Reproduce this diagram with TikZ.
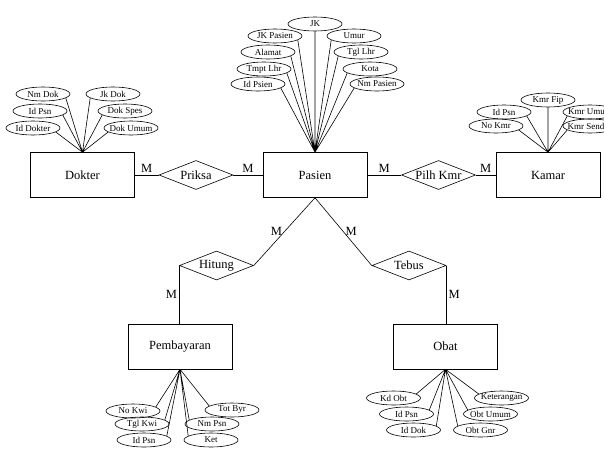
\documentclass[tikz,border=0pt]{standalone}
\usepackage{fontspec}
\setmainfont{Liberation Serif}
\usetikzlibrary{positioning,shapes.geometric}

\begin{document}
\begin{tikzpicture}[x=1pt,y=-1pt,line width=0.6pt,on grid,
         entity/.style = {draw,rectangle,minimum width=104pt,minimum height=45pt,
         inner sep=0pt,font=\fontsize{12.5}{14}\selectfont},
         relation/.style = {draw,diamond,aspect=2.5,minimum width=74pt,
         minimum height=29pt,inner sep=0pt,font=\fontsize{12.5}{14}\selectfont},
         attrib/.style = {draw,ellipse,minimum width=54pt,minimum height=14pt,
         inner xsep=-6pt,inner ysep=0pt,font=\fontsize{9}{10}\selectfont},
         card/.style = {inner sep=2pt,font=\fontsize{12.5}{14}\selectfont}
]
      \useasboundingbox (0,0) rectangle (604,450);

      \node[entity] (pasien) at (315,175) {Pasien};
      \node[relation, left=119pt of pasien] (priksa) {Priksa};
      \node[entity, left=113.5pt of priksa] (dokter) {Dokter};
      \node[relation, right=123.5pt of pasien] (pilih) {Pilh Kmr};
      \node[entity, right=109.5pt of pilih] (kamar) {Kamar};
      \node[relation, below left=90.5pt and 98.5pt of pasien] (hitung) {Hitung};
      \node[relation, below right=90.5pt and 94pt of pasien] (tebus) {Tebus};
      \node[entity, below left=81pt and 36.5pt of hitung] (bayar) {Pembayaran};
      \node[entity, below right=81pt and 36.5pt of tebus] (obat) {Obat};

      % atribut pasien
      \node[attrib, above=151pt of pasien] (jk) {JK};
      \node[attrib, above left=139pt and 40pt of pasien] (jkpasien) {JK Pasien};
      \node[attrib, above right=139pt and 39pt of pasien] (umur) {Umur};
      \node[attrib, above left=123pt and 47pt of pasien] (alamat) {Alamat};
      \node[attrib, above right=123pt and 46pt of pasien] (tgllhr) {Tgl Lhr};
      \node[attrib, above left=106pt and 51pt of pasien] (tmptlhr) {Tmpt Lhr};
      \node[attrib, above right=106pt and 55pt of pasien] (kota) {Kota};
      \node[attrib, above left=91pt and 57pt of pasien] (idpsien) {Id Psien};
      \node[attrib, above right=91pt and 62pt of pasien] (nmpasien) {Nm Pasien};

      % atribut dokter
      \node[attrib, above left=81pt and 39.5pt of dokter] (nmdok) {Nm Dok};
      \node[attrib, above left=64pt and 42.5pt of dokter] (idpsnd) {Id Psn};
      \node[attrib, above left=47pt and 49.5pt of dokter] (iddokter) {Id Dokter};
      \node[attrib, above right=81pt and 30.5pt of dokter] (jkdok) {Jk Dok};
      \node[attrib, above right=64pt and 42.5pt of dokter] (dokspes) {Dok Spes};
      \node[attrib, above right=47pt and 48.5pt of dokter] (dokumum) {Dok Umum};

      % atribut kamar
      \node[attrib, above=75pt of kamar] (kmrfip) {Kmr Fip};
      \node[attrib, above left=63pt and 44pt of kamar] (idpsnk) {Id Psn};
      \node[attrib, above left=49pt and 52pt of kamar] (nokmr) {No Kmr};
      \node[attrib, above right=63pt and 42pt of kamar] (kmrumum) {Kmr Umum};
      \node[attrib, above right=49pt and 42pt of kamar] (kmrsendiri) {Kmr Sendiri};

      % atribut pembayaran
      \node[attrib, below left=64.5pt and 47pt of bayar] (nokwi) {No Kwi};
      \node[attrib, below left=77.5pt and 38pt of bayar] (tglkwi) {Tgl Kwi};
      \node[attrib, below left=93.5pt and 36pt of bayar] (idpsnb) {Id Psn};
      \node[attrib, below right=63.5pt and 52pt of bayar] (totbyr) {Tot Byr};
      \node[attrib, below right=77.5pt and 32pt of bayar] (nmpsn) {Nm Psn};
      \node[attrib, below right=93.5pt and 31pt of bayar] (ket) {Ket};

      % atribut obat
      \node[attrib, below left=51.5pt and 52pt of obat] (kdobt) {Kd Obt};
      \node[attrib, below left=67.5pt and 39pt of obat] (idpsno) {Id Psn};
      \node[attrib, below left=83.5pt and 32pt of obat] (iddok) {Id Dok};
      \node[attrib, below right=51.5pt and 56pt of obat] (keterangan) {Keterangan};
      \node[attrib, below right=67.5pt and 45pt of obat] (obtumum) {Obt Umum};
      \node[attrib, below right=83.5pt and 35pt of obat] (obtgnr) {Obt Gnr};

      \draw (dokter) -- node[card,above]{M} (priksa) -- node[card,above]{M} (pasien)
            -- node[card,above]{M} (pilih) -- node[card,above]{M} (kamar);
      \draw (pasien.south) -- node[card,left]{M} (hitung.east);
      \draw (pasien.south) -- node[card,right]{M} (tebus.west);
      \draw (hitung.west) -- node[card,left]{M} (hitung.west |- bayar.north);
      \draw (tebus.east) -- node[card,right]{M} (tebus.east |- obat.north);

      \draw (jk.south) -- (pasien.north) (jkpasien.-10) -- (pasien.north)
            (umur.190) -- (pasien.north) (alamat.-10) -- (pasien.north)
            (tgllhr.190) -- (pasien.north) (tmptlhr.-10) -- (pasien.north)
            (kota.190) -- (pasien.north) (idpsien.-10) -- (pasien.north)
            (nmpasien.190) -- (pasien.north);
      \draw (nmdok.-10) -- (dokter.north) (idpsnd.-10) -- (dokter.north)
            (iddokter.-10) -- (dokter.north) (jkdok.190) -- (dokter.north)
            (dokspes.190) -- (dokter.north) (dokumum.190) -- (dokter.north);
      \draw (kmrfip.south) -- (kamar.north) (idpsnk.-10) -- (kamar.north)
            (nokmr.-10) -- (kamar.north) (kmrumum.190) -- (kamar.north)
            (kmrsendiri.190) -- (kamar.north);
      \draw (nokwi.10) -- (bayar.south) (tglkwi.10) -- (bayar.south)
            (idpsnb.10) -- (bayar.south) (totbyr.170) -- (bayar.south)
            (nmpsn.170) -- (bayar.south) (ket.170) -- (bayar.south);
      \draw (kdobt.10) -- (obat.south) (idpsno.10) -- (obat.south)
            (iddok.10) -- (obat.south) (keterangan.170) -- (obat.south)
            (obtumum.170) -- (obat.south) (obtgnr.170) -- (obat.south);
\end{tikzpicture}
\end{document}
